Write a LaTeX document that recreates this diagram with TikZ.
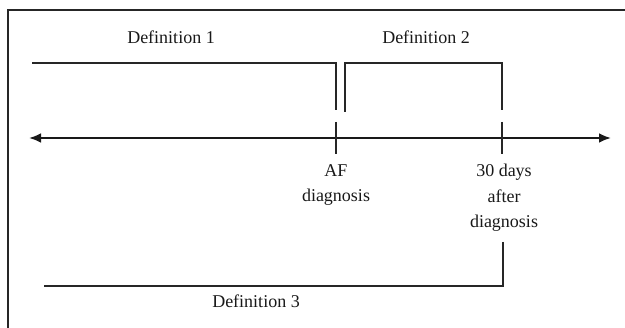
\documentclass[tikz,border=0pt]{standalone}
\usepackage{fontspec}
\setmainfont{Liberation Serif}
\usetikzlibrary{arrows.meta}
\begin{document}
\begin{tikzpicture}[x=1pt,y=-1pt,
  lbl/.style={font=\fontsize{18}{26}\selectfont, inner sep=0pt, anchor=base, align=center, text=black!90},
  frame/.style={line width=2pt, draw=black!85},
  bracket/.style={line width=1.3pt, draw=black!85},
  axis/.style={line width=2.6pt, draw=black!90, {Latex[length=12pt,width=10pt]}-{Latex[length=12pt,width=10pt]}},
  tick/.style={line width=1.3pt, draw=black!85}]
\useasboundingbox (0,0) rectangle (625,328);
\fill[white] (0,0) rectangle (625,328);
% frame
\coordinate (fbl) at (7.5,330);
\coordinate (ftl) at (7.5,10.5);
\coordinate (ftr) at (630,10.5);
\draw[frame] (fbl) -- (ftl) -- (ftr);
% axis
\coordinate (axL) at (29,138);
\coordinate (axR) at (611,138);
\draw[axis] (axL) -- (axR);
% ticks
\coordinate (afT) at (336,122);
\coordinate (afB) at (336,154);
\coordinate (dT) at (502,122);
\coordinate (dB) at (502,154);
\draw[tick] (afT) -- (afB);
\draw[tick] (dT) -- (dB);
% definition 1 bracket
\coordinate (d1a) at (32,63);
\coordinate (d1b) at (336,63);
\coordinate (d1c) at (336,110);
\draw[bracket] (d1a) -- (d1b) -- (d1c);
% definition 2 bracket
\coordinate (d2a) at (345,112);
\coordinate (d2b) at (345,63);
\coordinate (d2c) at (502,63);
\coordinate (d2d) at (502,110);
\draw[bracket] (d2a) -- (d2b) -- (d2c) -- (d2d);
% definition 3 bracket
\coordinate (d3a) at (503,242);
\coordinate (d3b) at (503,286);
\coordinate (d3c) at (44,286);
\draw[bracket] (d3a) -- (d3b) -- (d3c);
% labels
\node[lbl] (def1) at (171,44) {Definition 1};
\node[lbl] (def2) at (426,44) {Definition 2};
\node[lbl] (def3) at (256,308) {Definition 3};
\node[lbl] (af1) at (336,177) {AF};
\node[lbl] (af2) at (336,202) {diagnosis};
\node[lbl] (th1) at (504,177) {30 days};
\node[lbl] (th2) at (504,203) {after};
\node[lbl] (th3) at (504,228) {diagnosis};
\end{tikzpicture}
\end{document}
